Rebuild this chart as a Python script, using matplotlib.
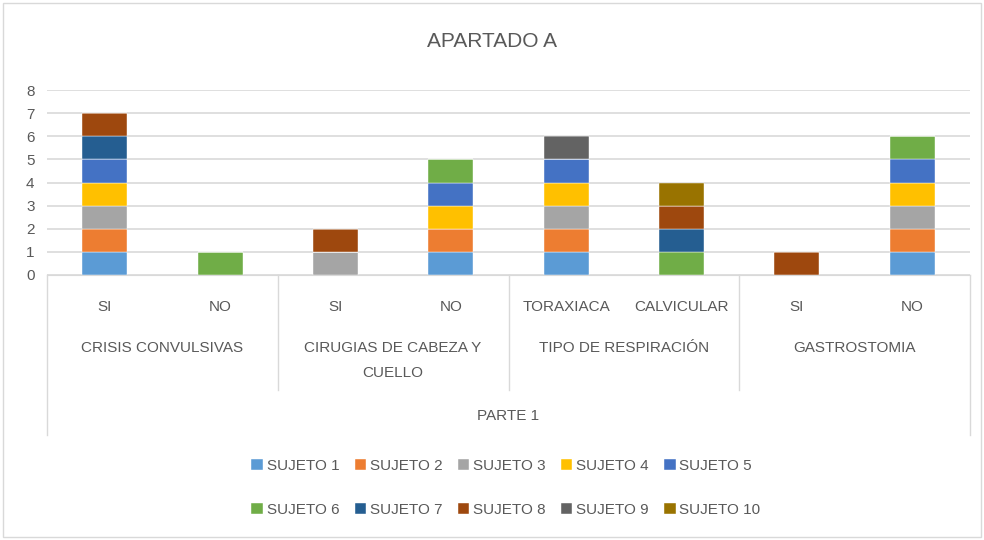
import matplotlib.pyplot as plt
from matplotlib.lines import Line2D
from matplotlib.patches import Rectangle
import numpy as np

plt.rcParams["font.family"] = ["Liberation Sans", "DejaVu Sans"]

# data
categories = ["SI", "NO", "SI", "NO", "TORAXIACA", "CALVICULAR", "SI", "NO"]
groups = ["CRISIS CONVULSIVAS", "CIRUGIAS DE CABEZA Y\nCUELLO",
          "TIPO DE RESPIRACIÓN", "GASTROSTOMIA"]
top_group = "PARTE 1"
subjects = ["SUJETO %d" % i for i in range(1, 11)]
sujeto_1 = [1, 0, 0, 1, 1, 0, 0, 1]
sujeto_2 = [1, 0, 0, 1, 1, 0, 0, 1]
sujeto_3 = [1, 0, 1, 0, 1, 0, 0, 1]
sujeto_4 = [1, 0, 0, 1, 1, 0, 0, 1]
sujeto_5 = [1, 0, 0, 1, 1, 0, 0, 1]
sujeto_6 = [0, 1, 0, 1, 0, 1, 0, 1]
sujeto_7 = [1, 0, 0, 0, 0, 1, 0, 0]
sujeto_8 = [1, 0, 1, 0, 0, 1, 1, 0]
sujeto_9 = [0, 0, 0, 0, 1, 0, 0, 0]
sujeto_10 = [0, 0, 0, 0, 0, 1, 0, 0]
series = [sujeto_1, sujeto_2, sujeto_3, sujeto_4, sujeto_5,
          sujeto_6, sujeto_7, sujeto_8, sujeto_9, sujeto_10]

colors = ["#5B9BD5", "#ED7D31", "#A5A5A5", "#FFC000", "#4472C4",
          "#70AD47", "#255E91", "#9E480E", "#636363", "#997300"]
txt = "#595959"
grid = "#D9D9D9"

fig = plt.figure(figsize=(9.84, 5.4), dpi=100)
ax = fig.add_axes([47 / 984, 1 - 275 / 540, 923 / 984, 185 / 540])

x = np.arange(len(categories))
bottom = np.zeros(len(categories))
handles = []
for vals, name, c in zip(series, subjects, colors):
    b = ax.bar(x, vals, width=0.39, bottom=bottom, color=c, label=name,
               edgecolor="white", linewidth=0.3)
    handles.append(b)
    bottom += np.array(vals)

ax.set_xlim(-0.5, 7.5)
ax.set_ylim(0, 8)
ax.set_yticks(range(0, 9))
ax.yaxis.grid(True, color=grid, linewidth=1.2)
ax.set_axisbelow(True)
for s in ["top", "right", "left"]:
    ax.spines[s].set_visible(False)
ax.spines["bottom"].set_color(grid)
ax.tick_params(axis="y", length=0, labelsize=11, colors=txt, pad=9)
ax.set_xticks(x)
ax.set_xticklabels(categories)
ax.tick_params(axis="x", length=0, labelsize=11, colors=txt, pad=18)

# multi-level category axis
tr = ax.get_xaxis_transform()
for i, g in enumerate(groups):
    ax.text(2 * i + 0.5, -0.355, g, transform=tr, ha="center", va="top",
            fontsize=11, color=txt, linespacing=2.0)
ax.text(3.5, -0.762, top_group, transform=tr, ha="center", va="center",
        fontsize=11, color=txt)
for xs in [1.5, 3.5, 5.5]:
    ax.add_line(Line2D([xs, xs], [0, -0.622], transform=tr, color=grid,
                       linewidth=1, clip_on=False))
for xs in [-0.5, 7.5]:
    ax.add_line(Line2D([xs, xs], [0, -0.865], transform=tr, color=grid,
                       linewidth=1, clip_on=False))

fig.text(0.5, 1 - 42 / 540, "APARTADO A", ha="center", va="center",
         fontsize=15, color=txt)

# legend: column-major order so rows read 1-5 then 6-10
order = [0, 5, 1, 6, 2, 7, 3, 8, 4, 9]
leg = fig.legend([handles[i] for i in order], [subjects[i] for i in order],
                 loc="center", bbox_to_anchor=(506 / 984, 1 - 488 / 540),
                 ncol=5, frameon=False, fontsize=11, handlelength=0.75,
                 handleheight=0.75, handletextpad=0.25, columnspacing=1.0,
                 labelspacing=1.95)
for t in leg.get_texts():
    t.set_color(txt)

fig.patches.append(Rectangle((0.003, 0.005), 0.994, 0.99, transform=fig.transFigure,
                             fill=False, edgecolor=grid, linewidth=1))

fig.savefig("out.png", dpi=100)
